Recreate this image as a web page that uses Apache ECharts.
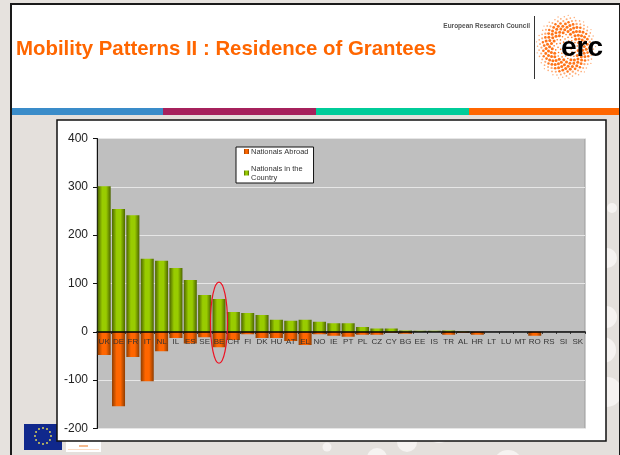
<!DOCTYPE html>
<html>
<head>
<meta charset="utf-8">
<title>Mobility Patterns II : Residence of Grantees</title>
<script src="https://cdn.jsdelivr.net/npm/echarts@6/dist/echarts.min.js"></script>
<style>
  html, body { margin: 0; padding: 0; background: #e6e2de; }
  #chart { width: 620px; height: 455px; }
</style>
</head>
<body>
<div id="chart"></div>
<script>
const countries = ["UK", "DE", "FR", "IT", "NL", "IL", "ES", "SE", "BE", "CH", "FI", "DK", "HU", "AT", "EL", "NO", "IE", "PT", "PL", "CZ", "CY", "BG", "EE", "IS", "TR", "AL", "HR", "LT", "LU", "MT", "RO", "RS", "SI", "SK"];
const nationalsAbroad = [-48, -154, -52, -102, -40, -13, -24, -11, -32, -17, -5, -13, -13, -19, -27, -5, -8, -10, -6, -6, -2, -4, 0, 0, -6, -2, -6, 0, 0, 0, -8, 0, 0, 0];
const nationalsInCountry = [301, 254, 241, 151, 147, 132, 107, 76, 68, 41, 39, 35, 25, 23, 25, 21, 18, 18, 10, 7, 7, 3, 2, 2, 3, 1, 0, 0, 0, 0, 0, 0, 0, 0];
const yTicks = { min: -200, max: 400, step: 100 };

const font = "'Liberation Sans', Arial, sans-serif";
const plotHeight = 290;

function barGradient(edge, mid) {
  return new echarts.graphic.LinearGradient(0, 0, 1, 0, [
    { offset: 0, color: edge },
    { offset: 0.35, color: mid },
    { offset: 0.65, color: mid },
    { offset: 1, color: edge },
  ]);
}

// slide decoration, all behind the chart
function slideBackground() {
  const items = [];
  const rect = (x, y, w, h, fill, z) => items.push({ type: "rect", shape: { x, y, width: w, height: h }, style: { fill }, z: z });
  const dots = [[612, 208, 5], [607, 258, 10], [606, 317, 11], [603, 350, 13], [607, 392, 15],
    [327, 447, 4.5], [377, 458, 10], [407, 442, 10], [439, 432, 11], [508, 465, 15]];

  rect(11, 4, 609, 451, "#e4e0dc", -20);
  dots.forEach((d) => items.push({ type: "circle", shape: { cx: d[0], cy: d[1], r: d[2] }, style: { fill: "#f6f3f1" }, z: -19 }));
  rect(11, 4, 609, 104, "#ffffff", -18);
  rect(11, 108, 152, 7, "#3a8cc9", -18);
  rect(163, 108, 153, 7, "#a6215c", -18);
  rect(316, 108, 153, 7, "#00cc99", -18);
  rect(469, 108, 151, 7, "#ff6600", -18);
  rect(10, 3, 2, 452, "#1a1a1a", -17);
  rect(10, 3, 610, 2, "#1a1a1a", -17);
  rect(619, 3, 1, 452, "#1a1a1a", -17);

  // EU flag and the little logo under the chart box
  rect(24, 424, 38, 26, "#10288c", -16);
  for (let i = 0; i < 12; i++) {
    const a = (i * Math.PI) / 6;
    items.push({ type: "circle", shape: { cx: 43 + 8 * Math.cos(a), cy: 436 + 8 * Math.sin(a), r: 1 }, style: { fill: "#d8cf5a" }, z: -15 });
  }
  rect(66, 441, 35, 11, "#ffffff", -16);
  rect(68, 449, 31, 1, "#fbdcc4", -15);
  rect(79, 445, 9, 2, "#f4b98c", -15);

  // chart box
  rect(57, 120, 549, 321, "#ffffff", -14);
  items.push({ type: "rect", shape: { x: 57, y: 120, width: 549, height: 321 }, style: { fill: "none", stroke: "#111", lineWidth: 1.5 }, z: -13 });

  // erc logo
  const n = 240;
  for (let i = 6; i < n; i++) {
    const f = Math.sqrt(i / n);
    const a = i * 2.39996;
    const r = f < 0.4 ? 0.8 : f < 0.7 ? 1.5 : 1.5 - (f - 0.7) * 3;
    items.push({
      type: "circle",
      shape: { cx: 566 + 30 * f * Math.cos(a), cy: 47 + 32 * f * Math.sin(a), r: Math.max(r, 0.4) },
      style: { fill: "#ff6600", opacity: f > 0.8 ? 0.55 : 0.9 },
      z: -12,
    });
  }
  items.push({ type: "text", x: 582, y: 48, style: { text: "erc", font: "bold 28px " + font, fill: "#000", align: "center", verticalAlign: "middle" }, z: -11 });
  rect(534, 16, 1, 63, "#333", -11);
  items.push({ type: "text", x: 530, y: 26, style: { text: "European Research Council", font: "bold 6.5px " + font, fill: "#555", align: "right", verticalAlign: "middle" }, z: -11 });
  items.push({ type: "text", x: 16, y: 49, style: { text: "Mobility Patterns II : Residence of Grantees", font: "bold 20.4px " + font, fill: "#ff6600", align: "left", verticalAlign: "middle" }, z: -11 });
  return items;
}

const chart = echarts.init(document.getElementById("chart"), null, { renderer: "canvas" });

chart.setOption({
  animation: false,
  backgroundColor: "#e6e2de",
  textStyle: { fontFamily: font },
  grid: {
    left: 97,
    right: 35,
    top: 138.5,
    bottom: 26.5,
    show: true,
    backgroundColor: "#bfbfbf",
    borderColor: "#9a9a9a",
    borderWidth: 1,
  },
  legend: {
    orient: "vertical",
    left: 236,
    top: 147,
    padding: [0, 5, 1, 8],
    itemWidth: 5,
    itemHeight: 5,
    itemGap: 8,
    icon: "rect",
    backgroundColor: "#fff",
    borderColor: "#111",
    borderWidth: 1,
    textStyle: { fontSize: 7.5, color: "#333", fontFamily: font, lineHeight: 9, padding: [0, 0, 0, -3] },
    selectedMode: false,
  },
  xAxis: {
    type: "category",
    data: countries,
    z: 5,
    // zero sits a third of the way up the plot, labels have to follow the line
    offset: -plotHeight / 3,
    axisLine: { onZero: false, lineStyle: { color: "#000", width: 1.5 } },
    axisTick: { show: true, length: 2, lineStyle: { color: "#222" } },
    axisLabel: { interval: 0, fontSize: 8, color: "#333", margin: 6, hideOverlap: false },
    splitLine: { show: false },
  },
  yAxis: {
    type: "value",
    min: yTicks.min,
    max: yTicks.max,
    interval: yTicks.step,
    axisLine: { show: true, lineStyle: { color: "#111", width: 1 } },
    axisTick: { show: true, length: 4, lineStyle: { color: "#111" } },
    axisLabel: { fontSize: 12, color: "#222", margin: 9 },
    splitLine: { show: true, lineStyle: { color: "#e6e6e6", width: 1 } },
  },
  series: [
    {
      name: "Nationals Abroad",
      type: "bar",
      data: nationalsAbroad,
      barWidth: 13,
      barGap: "-100%",
      itemStyle: { color: barGradient("#8f3d00", "#ff6600") },
    },
    {
      name: "Nationals in the\nCountry",
      type: "bar",
      data: nationalsInCountry,
      barWidth: 13,
      barGap: "-100%",
      itemStyle: { color: barGradient("#4d6600", "#99cc00") },
    },
  ],
  graphic: { elements: slideBackground() },
});

// red ring around Belgium
const ringTop = chart.convertToPixel({ xAxisIndex: 0, yAxisIndex: 0 }, ["BE", 103]);
const ringBottom = chart.convertToPixel({ xAxisIndex: 0, yAxisIndex: 0 }, ["BE", -65]);
chart.setOption({
  graphic: {
    elements: slideBackground().concat([{
      type: "ellipse",
      shape: { cx: ringTop[0], cy: (ringTop[1] + ringBottom[1]) / 2, rx: 8.5, ry: (ringBottom[1] - ringTop[1]) / 2 },
      style: { fill: "none", stroke: "#ee1122", lineWidth: 1.2 },
      z: 100,
    }]),
  },
});
</script>
</body>
</html>
